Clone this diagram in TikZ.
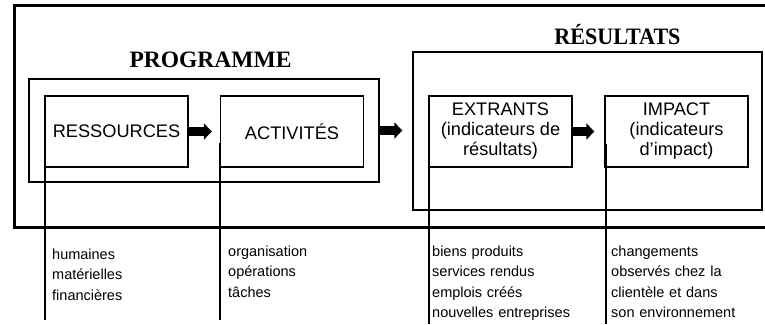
\documentclass[tikz,border=0pt]{standalone}
\usepackage{fontspec}
\setmainfont{Liberation Sans}
\newfontfamily\titlefont{Liberation Serif Bold}
\usetikzlibrary{arrows.meta}

\begin{document}
\begin{tikzpicture}[x=1pt,y=-1pt,
  box/.style={draw, line width=1.3pt, minimum width=143pt, minimum height=71pt,
    inner sep=0pt, align=center, font=\fontsize{18.2}{20}\selectfont},
  group/.style={draw, line width=1.3pt, inner sep=0pt},
  heading/.style={font=\titlefont\fontsize{23.5}{23.5}\selectfont, inner sep=0pt, anchor=base},
  note/.style={font=\fontsize{14.5}{20.5}\selectfont, anchor=base west, inner sep=0pt,
    text width=170pt, align=left},
  flow/.style={line width=9pt, -{Triangle[length=8pt,width=16pt]}},
  lead/.style={line width=1.3pt}]

\useasboundingbox (0,0) rectangle (765,324);

% outer frame, open on the right
\draw[line width=3pt, line join=miter] (765,5.5) -- (14.5,5.5) -- (14.5,227) -- (765,227);

% group frames
\node[group, minimum width=350pt, minimum height=103pt] (prog) at (204,130.5) {};
\node[group, minimum width=349pt, minimum height=158pt] (resbox) at (587.5,131) {};

% headings
\node[heading] (progtitle) at (210.5,67) {PROGRAMME};
\node[heading, xscale=0.94] (restitle) at (617.5,44) {RÉSULTATS};

% stage boxes
\node[box] (res) at (116.5,131.5) {RESSOURCES};
\node[box] (act) at (292,131.5) {ACTIVITÉS};
\node[box] (ext) at (500.5,131.5) {EXTRANTS\\(indicateurs de\\résultats)};
\node[box] (imp) at (676.5,131.5) {IMPACT\\(indicateurs\\d’impact)};

% block arrows between stages
\draw[flow, shorten >=8pt] (res.east) -- (act.west);
\draw[flow, shorten >=10pt] (prog.east) -- (prog.east -| resbox.west);
\draw[flow, shorten >=10pt] (ext.east) -- (imp.west);

% leader lines down to the detail columns
\coordinate (r1) at (45,145);  \coordinate (r2) at (45,320);
\coordinate (a1) at (220,143); \coordinate (a2) at (220,320);
\coordinate (e1) at (429,143); \coordinate (e2) at (429,324);
\coordinate (i1) at (606,144); \coordinate (i2) at (606,324);
\draw[lead] (r1) -- (r2);
\draw[lead] (a1) -- (a2);
\draw[lead] (e1) -- (e2);
\draw[lead] (i1) -- (i2);

% detail columns
\node[note] (resnote) at (52,259) {humaines\\matérielles\\financières};
\node[note] (actnote) at (228,256) {organisation\\opérations\\tâches};
\node[note] (extnote) at (432,256) {biens produits\\services rendus\\emplois créés\\nouvelles entreprises};
\node[note] (impnote) at (611,256) {changements\\observés chez la\\clientèle et dans\\son environnement};

\end{tikzpicture}
\end{document}
